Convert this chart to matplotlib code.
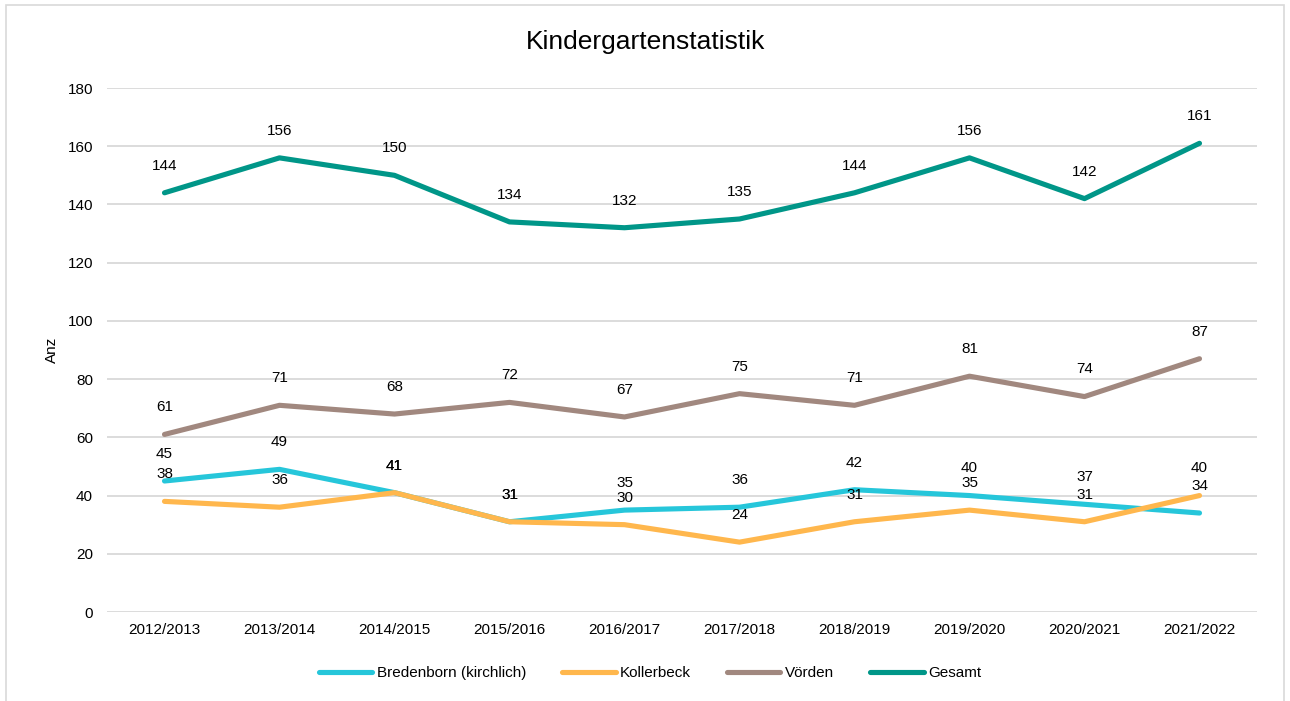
import matplotlib
matplotlib.use("Agg")
import matplotlib.pyplot as plt
from matplotlib.patches import Rectangle

plt.rcParams['font.family'] = ['Liberation Sans', 'DejaVu Sans']

categories = ["2012/2013", "2013/2014", "2014/2015", "2015/2016", "2016/2017",
              "2017/2018", "2018/2019", "2019/2020", "2020/2021", "2021/2022"]
bredenborn = [45, 49, 41, 31, 35, 36, 42, 40, 37, 34]
kollerbeck = [38, 36, 41, 31, 30, 24, 31, 35, 31, 40]
voerden = [61, 71, 68, 72, 67, 75, 71, 81, 74, 87]
gesamt = [144, 156, 150, 134, 132, 135, 144, 156, 142, 161]
y_ticks = [0, 20, 40, 60, 80, 100, 120, 140, 160, 180]

series = [
    ("Bredenborn (kirchlich)", bredenborn, "#26C6DA"),
    ("Kollerbeck", kollerbeck, "#FFB74D"),
    ("Vörden", voerden, "#A1887F"),
    ("Gesamt", gesamt, "#009688"),
]

W, H = 1290, 701
fig = plt.figure(figsize=(W / 100, H / 100), dpi=100)
ax = fig.add_axes([107 / W, (H - 612) / H, (1257 - 107) / W, (612 - 88) / H])

# outer chart border
fig.patches.append(Rectangle((6 / W, -0.01), (1284 - 6) / W, (H - 5) / H + 0.01,
                             transform=fig.transFigure, fill=False,
                             edgecolor="#D9D9D9", linewidth=1.2))

x = list(range(len(categories)))
for name, vals, col in series:
    ax.plot(x, vals, color=col, linewidth=3.7, solid_capstyle="round",
            solid_joinstyle="round", label=name, zorder=3)
for name, vals, col in series:
    for xi, v in zip(x, vals):
        ax.annotate(str(v), (xi, v), xytext=(0, 19.5), textcoords="offset points",
                    ha="center", va="center", fontsize=11, color="#000000", zorder=4)

ax.set_xlim(-0.5, len(categories) - 0.5)
ax.set_ylim(0, 180)
ax.set_yticks(y_ticks)
ax.set_xticks(x)
ax.set_xticklabels(categories)
ax.tick_params(axis="both", length=0, labelsize=11, colors="#000000")
ax.tick_params(axis="y", pad=10)
ax.tick_params(axis="x", pad=8)
ax.grid(axis="y", color="#D9D9D9", linewidth=1.3)
ax.set_axisbelow(True)
for s in ax.spines.values():
    s.set_visible(False)

fig.text(52 / W, 1 - 350 / H, "Anz", rotation=90, ha="center", va="center",
         fontsize=11)
fig.text(646 / W, 1 - 42 / H, "Kindergartenstatistik", ha="center", va="center",
         fontsize=19)

leg = fig.legend(loc="center", bbox_to_anchor=(650 / W, 1 - 673 / H), ncol=4,
                 frameon=False, fontsize=11, handlelength=3.5,
                 columnspacing=2.35, handletextpad=0.3)

fig.savefig("out.png", dpi=100)
